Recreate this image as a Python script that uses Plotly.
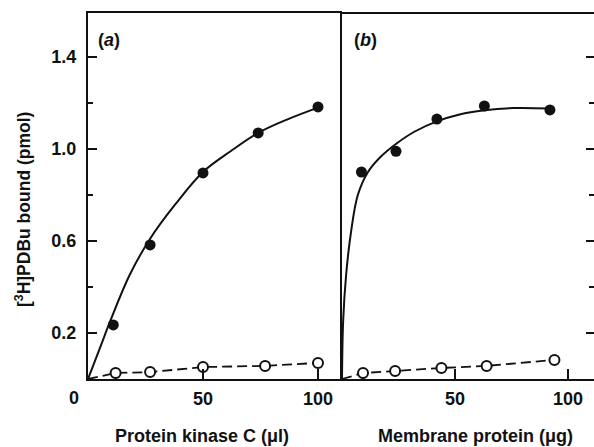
import plotly.graph_objects as go

# ---------------- data ----------------
a_x_filled = [11, 27, 50, 74, 100]
a_y_filled = [0.235, 0.583, 0.896, 1.07, 1.183]
a_x_open = [0, 12, 27, 50, 77, 100]
a_y_open = [0.0, 0.026, 0.03, 0.052, 0.057, 0.07]
a_curve_x = [0, 5, 10, 18, 27, 38, 50, 62, 74, 87, 100]
a_curve_y = [0, 0.13, 0.26, 0.45, 0.61, 0.76, 0.90, 0.99, 1.07, 1.13, 1.18]

b_x_filled = [8.6, 23.9, 42, 63, 92]
b_y_filled = [0.90, 0.99, 1.13, 1.187, 1.17]
b_x_open = [0, 9.3, 23.5, 44, 64, 94]
b_y_open = [0.0, 0.026, 0.035, 0.048, 0.057, 0.083]
b_curve_x = [0, 0.5, 1.8, 4, 7, 11.5, 17, 24.3, 32, 42, 52, 63, 76, 92]
b_curve_y = [0.0, 0.25, 0.45, 0.64, 0.80, 0.90, 0.965, 1.025, 1.075, 1.12, 1.15, 1.168, 1.178, 1.176]

y_major = [0.2, 0.6, 1.0, 1.4]
y_major_text = ["0.2", "0.6", "1.0", "1.4"]
y_minor = [0.4, 0.8, 1.2]
x_ticks = [50, 100]
x_tick_text = ["50", "100"]

FONT = "Liberation Sans"
BLACK = "#111111"

fig = go.Figure()

def add_panel(xa, ya, cx, cy, fx, fy, ox, oy):
    fig.add_trace(go.Scatter(x=cx, y=cy, mode="lines", line=dict(color=BLACK, width=2, shape="spline", smoothing=1.0),
                             xaxis=xa, yaxis=ya, showlegend=False, hoverinfo="skip"))
    fig.add_trace(go.Scatter(x=ox, y=oy, mode="lines", line=dict(color=BLACK, width=1.8, dash="10px,5px"),
                             xaxis=xa, yaxis=ya, showlegend=False, hoverinfo="skip"))
    fig.add_trace(go.Scatter(x=ox[1:], y=oy[1:], mode="markers",
                             marker=dict(size=10, color="white", line=dict(color=BLACK, width=2)),
                             xaxis=xa, yaxis=ya, showlegend=False))
    fig.add_trace(go.Scatter(x=fx, y=fy, mode="markers",
                             marker=dict(size=11, color=BLACK, line=dict(width=0)),
                             xaxis=xa, yaxis=ya, showlegend=False))

add_panel("x", "y", a_curve_x, a_curve_y, a_x_filled, a_y_filled, a_x_open, a_y_open)
add_panel("x2", "y2", b_curve_x, b_curve_y, b_x_filled, b_y_filled, b_x_open, b_y_open)

L, R, T, B = 88, 0, 13, 68
W, H = 594, 447
pw = W - L - R
ph = H - T - B
split = (340 - L) / pw

def px(xp):
    return (xp - L) / pw

def py(yp):
    return (H - B - yp) / ph

tickfont = dict(family=FONT, size=18, color=BLACK, weight="bold")
yrange = [0, ph / 230.0]

fig.update_layout(
    width=W, height=H,
    margin=dict(l=L, r=R, t=T, b=B),
    paper_bgcolor="white", plot_bgcolor="white",
    xaxis=dict(domain=[0, split], range=[0, 252 / 2.3], showgrid=False, zeroline=False,
               showline=True, linewidth=2, linecolor=BLACK, mirror=True,
               ticks="inside", ticklen=10, tickwidth=2, tickcolor=BLACK,
               tickvals=x_ticks, ticktext=x_tick_text, tickfont=tickfont, ticklabelstandoff=2),
    yaxis=dict(domain=[0, 1], range=yrange, showgrid=False, zeroline=False,
               showline=True, linewidth=2, linecolor=BLACK, mirror=True,
               ticks="inside", ticklen=9, tickwidth=2, tickcolor=BLACK,
               tickvals=y_major, ticktext=y_major_text, tickfont=tickfont, ticklabelstandoff=6,
               minor=dict(tickvals=y_minor, ticks="inside", ticklen=5, tickwidth=2, tickcolor=BLACK)),
    xaxis2=dict(domain=[split, 1], range=[-2 / 2.26, (594 - 342) / 2.26], anchor="y2", showgrid=False, zeroline=False,
                showline=True, linewidth=2, linecolor=BLACK, mirror=False,
                ticks="inside", ticklen=10, tickwidth=2, tickcolor=BLACK,
                tickvals=x_ticks, ticktext=x_tick_text, tickfont=tickfont, ticklabelstandoff=2),
    yaxis2=dict(domain=[0, 1], range=yrange, anchor="x2", side="right", showgrid=False, zeroline=False,
                showline=False, showticklabels=False,
                ticks="inside", ticklen=8, tickwidth=2, tickcolor=BLACK,
                tickvals=y_major,
                minor=dict(tickvals=y_minor, ticks="inside", ticklen=5, tickwidth=2, tickcolor=BLACK)),
    shapes=[dict(type="line", xref="paper", yref="paper", x0=split, x1=1, y0=1, y1=1,
                 line=dict(color=BLACK, width=2))],
)

ann_font = dict(family=FONT, size=18, color=BLACK, weight="bold")
lab_font = dict(family=FONT, size=18, color=BLACK, weight="bold")
fig.add_annotation(x=px(74), y=py(398), xref="paper", yref="paper", text="0", showarrow=False,
                   font=tickfont, xanchor="center", yanchor="middle")
fig.add_annotation(x=px(96), y=py(40), xref="paper", yref="paper", text="(<i>a</i>)", showarrow=False,
                   font=lab_font, xanchor="left", yanchor="middle")
fig.add_annotation(x=px(352), y=py(40), xref="paper", yref="paper", text="(<i>b</i>)", showarrow=False,
                   font=lab_font, xanchor="left", yanchor="middle")
fig.add_annotation(x=px(23), y=py(210), xref="paper", yref="paper",
                   text="[<sup>3</sup>H]PDBu bound (pmol)", textangle=-90, showarrow=False,
                   font=dict(family=FONT, size=17.5, color=BLACK, weight="bold"),
                   xanchor="center", yanchor="middle")
fig.add_annotation(x=px(202), y=py(436), xref="paper", yref="paper", text="Protein kinase C (μl)",
                   showarrow=False, font=ann_font, xanchor="center", yanchor="middle")
fig.add_annotation(x=px(475), y=py(436), xref="paper", yref="paper", text="Membrane protein (μg)",
                   showarrow=False, font=ann_font, xanchor="center", yanchor="middle")

fig.write_html("out.html")
